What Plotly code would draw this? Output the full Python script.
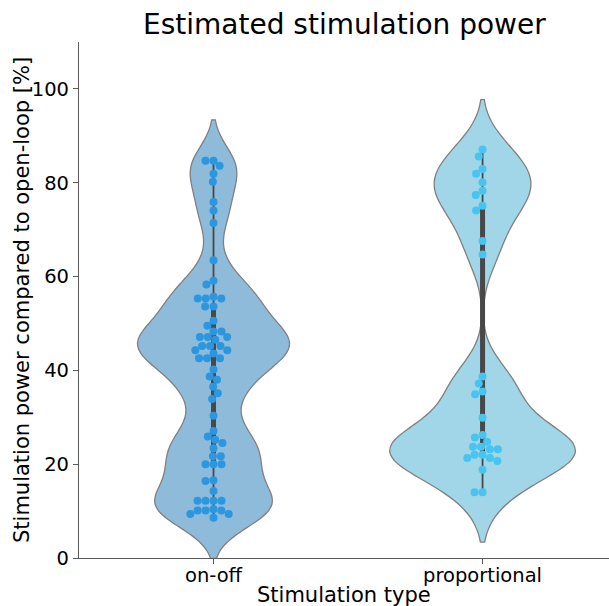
import numpy as np
import plotly.graph_objects as go

categories = ["on-off", "proportional"]

on_off = [84.7, 84.7, 83.6, 81.9, 80.2, 75.9, 74.1, 71.4, 63.5, 59.1, 58.3,
          55.3, 55.3, 55.3, 55.7, 53.6, 53.6, 50.6, 49.5, 48.3, 48.3, 47.1,
          47.1, 47.1, 46.5, 45.2, 45.2, 45.2, 44.3, 44.3, 43.6, 42.6, 42.6,
          42.6, 40.2, 38.7, 38.0, 36.5, 35.1, 33.9, 30.3, 27.1, 25.9, 25.2,
          24.5, 23.4, 21.7, 21.7, 20.0, 20.0, 20.0, 16.6, 16.4, 14.3, 12.2,
          12.2, 12.2, 12.2, 10.4, 10.1, 10.1, 10.1, 9.4, 9.4, 8.6]

proportional = [87.1, 85.6, 82.9, 81.9, 80.1, 78.3, 77.4, 75.1, 74.1, 67.6,
                64.7, 38.7, 37.2, 35.5, 34.9, 29.9, 26.2, 25.7, 24.8, 23.7,
                23.7, 23.2, 23.2, 22.0, 22.0, 21.3, 21.3, 20.7, 18.8, 14.0,
                14.0]

series = [on_off, proportional]
bandwidths = [4.35, 5.3]
violin_widths = [0.565, 0.69]
fill_colors = ["rgb(143,187,218)", "rgb(161,214,232)"]
point_colors = ["rgb(44,150,222)", "rgb(72,196,240)"]

y_range = [0, 110]
x_range = [-0.5, 1.47]
W, H = 609, 606
ML, MR, MT, MB = 79, 0, 42, 48
plot_w = W - ML - MR
plot_h = H - MT - MB
px_per_x = plot_w / (x_range[1] - x_range[0])
px_per_y = plot_h / (y_range[1] - y_range[0])
dot = 8.0


def swarm_offsets(values, d):
    vals = np.asarray(values, dtype=float) * px_per_y
    order = np.argsort(-vals, kind="stable")
    placed = []
    offs = np.zeros(len(vals))
    for i in order:
        y = vals[i]
        neigh = [(px, py) for px, py in placed if abs(py - y) < d]
        cands = [0.0]
        for px, py in neigh:
            dx = np.sqrt(max(d * d - (y - py) ** 2, 0.0))
            cands += [px + dx, px - dx]
        cands = sorted(cands, key=lambda c: (round(abs(c), 6), c))
        chosen = cands[-1]
        for c in cands:
            if all((c - px) ** 2 + (y - py) ** 2 >= d * d - 1e-6 for px, py in neigh):
                chosen = c
                break
        offs[i] = chosen
        placed.append((chosen, y))
    return offs / px_per_x


fig = go.Figure()
for k, data in enumerate(series):
    fig.add_trace(go.Violin(
        y=data, x0=k, width=violin_widths[k], bandwidth=bandwidths[k],
        spanmode="soft", scalemode="width", points=False,
        fillcolor=fill_colors[k], line=dict(color="rgb(128,128,128)", width=1.3),
        opacity=1, box_visible=False, meanline_visible=False,
        hoverinfo="skip", showlegend=False, orientation="v"))

for k, data in enumerate(series):
    arr = np.asarray(data)
    q1, q3 = np.percentile(arr, [25, 75])
    iqr = q3 - q1
    lo = arr[arr >= q1 - 1.5 * iqr].min()
    hi = arr[arr <= q3 + 1.5 * iqr].max()
    fig.add_trace(go.Scatter(x=[k, k], y=[lo, hi], mode="lines",
                             line=dict(color="rgb(72,72,72)", width=1.8),
                             showlegend=False, hoverinfo="skip"))
    fig.add_trace(go.Scatter(x=[k, k], y=[q1, q3], mode="lines",
                             line=dict(color="rgb(72,72,72)", width=5),
                             showlegend=False, hoverinfo="skip"))

for k, data in enumerate(series):
    offs = swarm_offsets(data, dot)
    fig.add_trace(go.Scatter(x=k + offs, y=data, mode="markers",
                             marker=dict(size=dot, color=point_colors[k],
                                         line=dict(width=0)),
                             showlegend=False, hoverinfo="skip"))

font_fam = "DejaVu Sans"
fig.update_layout(
    width=W, height=H,
    margin=dict(l=ML, r=MR, t=MT, b=MB, pad=0),
    paper_bgcolor="white", plot_bgcolor="white",
    violinmode="overlay",
    font=dict(family=font_fam, size=19.5, color="black"),
    xaxis=dict(range=x_range, tickmode="array", tickvals=[0, 1],
               ticktext=categories, showgrid=False, zeroline=False,
               showline=True, linecolor="rgb(90,90,90)", linewidth=1.2,
               ticks="outside", ticklen=5, tickcolor="rgb(90,90,90)",
               tickfont=dict(size=19.5), ticklabelstandoff=-6),
    yaxis=dict(range=y_range, tickvals=[0, 20, 40, 60, 80, 100],
               showgrid=False, zeroline=False, showline=True,
               linecolor="rgb(90,90,90)", linewidth=1.2, ticks="outside",
               ticklen=5, tickcolor="rgb(90,90,90)",
               tickfont=dict(size=19.5)),
    annotations=[
        dict(text="Estimated stimulation power", xref="paper", yref="paper",
             x=0.5, y=(H - MB - 25) / plot_h, xanchor="center", yanchor="middle",
             showarrow=False, font=dict(size=28, family=font_fam)),
        dict(text="Stimulation power compared to open-loop [%]", xref="paper",
             yref="paper", x=(22 - ML) / plot_w, y=0.5, textangle=-90,
             xanchor="center", yanchor="middle", showarrow=False,
             font=dict(size=21, family=font_fam)),
        dict(text="Stimulation type", xref="paper", yref="paper", x=0.5,
             y=-(595 - (H - MB)) / plot_h, xanchor="center", yanchor="middle",
             showarrow=False, font=dict(size=21, family=font_fam)),
    ],
)

fig.write_html("out.html",
               config={"displayModeBar": False},
               post_script="document.body.style.margin='0';"
                           "document.body.style.overflow='hidden';")
